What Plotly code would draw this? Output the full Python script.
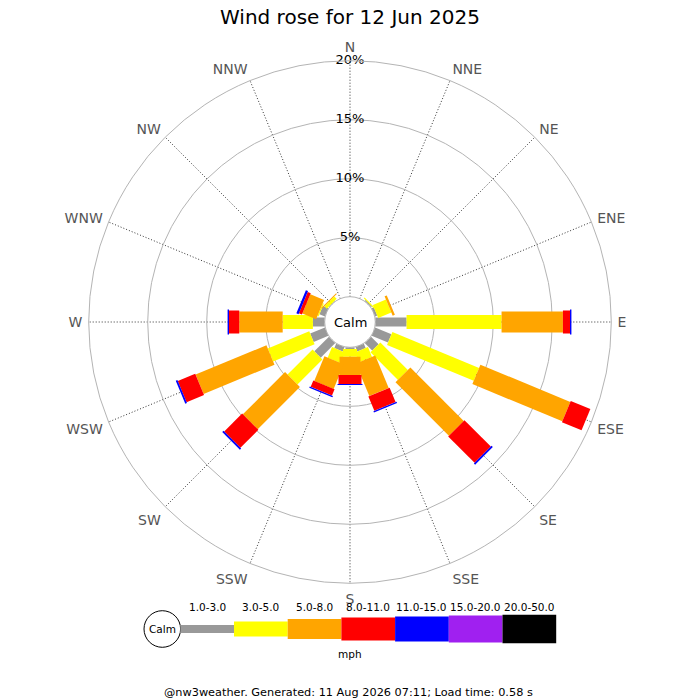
import plotly.graph_objects as go

# Wind rose data (percent of time)
directions = ['N', 'NNE', 'NE', 'ENE', 'E', 'ESE', 'SE', 'SSE',
              'S', 'SSW', 'SW', 'WSW', 'W', 'WNW', 'NW', 'NNW']
band_labels = ['1.0-3.0', '3.0-5.0', '5.0-8.0', '8.0-11.0',
               '11.0-15.0', '15.0-20.0', '20.0-50.0']
band_colors = ['#999999', '#ffff00', '#ffa500', '#ff0000',
               '#0000ff', '#a020f0', '#000000']

speed_1_3 = [0, 0, 0.1, 0.2, 2.65, 1.5, 0.9, 0.4, 0.15, 0.4, 1.75, 1.35, 1.0, 0.5, 0.05, 0]
speed_3_5 = [0, 0, 0.1, 1.2, 8.05, 7.95, 3.3, 0.9, 0.65, 0.97, 3.0, 3.8, 2.56, 0.1, 0.28, 0]
speed_5_8 = [0, 0, 0, 0.2, 5.2, 8.25, 6.4, 2.98, 1.55, 2.26, 5.06, 6.5, 3.68, 1.26, 0.08, 0]
speed_8_11 = [0, 0, 0, 0, 0.6, 1.8, 3.16, 1.32, 0.75, 0.57, 2.15, 1.6, 0.87, 0.28, 0, 0]
speed_11_15 = [0, 0, 0, 0, 0.12, 0, 0.15, 0.12, 0.1, 0.12, 0.15, 0.15, 0.12, 0.2, 0, 0]
speed_15_20 = [0] * 16
speed_20_50 = [0] * 16

radial_ticks = [5, 10, 15, 20]
radial_tick_text = ['5%', '10%', '15%', '20%']

title = 'Wind rose for 12 Jun 2025'
footer = '@nw3weather. Generated: 11 Aug 2026 07:11; Load time: 0.58 s'

FONT = 'DejaVu Sans'
W = H = 700
OFF = 8  # page margin the browser adds around the plot


def px(x):
    return (x - OFF) / W


def py(y):
    return 1 - (y - OFF) / H


bands = [speed_1_3, speed_3_5, speed_5_8, speed_8_11, speed_11_15, speed_15_20, speed_20_50]
widths = [9, 14, 21, 23, 25, 27, 29]
angles = [i * 22.5 for i in range(len(directions))]

fig = go.Figure()

# stacked segments drawn as thick radial lines
base = [0.0] * len(directions)
for vals, col, lw in zip(bands, band_colors, widths):
    rr, tt = [], []
    for i, v in enumerate(vals):
        if v > 0:
            rr += [base[i], base[i] + v, None]
            tt += [angles[i], angles[i], None]
        base[i] += v
    if rr:
        fig.add_trace(go.Scatterpolar(r=rr, theta=tt, mode='lines',
                                      line=dict(color=col, width=lw),
                                      hoverinfo='skip', showlegend=False))

# percent labels on the north line
fig.add_trace(go.Scatterpolar(r=radial_ticks, theta=[0] * len(radial_ticks), mode='text',
                              text=radial_tick_text, textposition='middle center',
                              textfont=dict(family=FONT, size=13, color='black'),
                              hoverinfo='skip', showlegend=False))

cx, cy, R = 350, 322, 261.3
fig.update_layout(
    width=W, height=H,
    margin=dict(l=0, r=0, t=0, b=0),
    paper_bgcolor='white', plot_bgcolor='white',
    showlegend=False,
    font=dict(family=FONT),
    polar=dict(
        domain=dict(x=[px(cx - R), px(cx + R)], y=[py(cy + R), py(cy - R)]),
        hole=25.3 / R,
        bgcolor='white',
        radialaxis=dict(range=[0, 20], tickvals=[0] + radial_ticks, showticklabels=False,
                        ticks='', showline=False, gridcolor='#b4b4b4', gridwidth=1),
        angularaxis=dict(rotation=90, direction='clockwise', tickmode='array',
                         tickvals=angles, ticktext=directions,
                         tickfont=dict(family=FONT, size=14, color='#555555'),
                         ticks='outside', ticklen=3, tickcolor='rgba(0,0,0,0)',
                         showline=True, linecolor='#b4b4b4', linewidth=1,
                         gridcolor='#333333', griddash='1px,2px', gridwidth=1),
    ),
)


def label(text, x, y, size):
    fig.add_annotation(text=text, x=px(x), y=py(y), xref='paper', yref='paper',
                       xanchor='center', yanchor='middle', showarrow=False,
                       font=dict(family=FONT, size=size, color='black'))


label('Calm', cx, cy, 13)
label(title, 350, 17, 20)
label(footer, 348, 692, 11.3)

# legend strip along the bottom
leg_y = 629
x0 = 180.3
box_w = 53.7
thick = [8, 15, 20, 23, 25, 27, 28.5]
fig.add_shape(type='circle', xref='paper', yref='paper',
              x0=px(162.3 - 18.3), x1=px(162.3 + 18.3),
              y0=py(leg_y + 18.3), y1=py(leg_y - 18.3),
              line=dict(color='black', width=1), fillcolor='white')
label('Calm', 162.3, leg_y, 10.5)
for k, (lab, col) in enumerate(zip(band_labels, band_colors)):
    xa = x0 + k * box_w
    xb = xa + box_w
    fig.add_shape(type='rect', xref='paper', yref='paper',
                  x0=px(xa), x1=px(xb),
                  y0=py(leg_y + thick[k] / 2), y1=py(leg_y - thick[k] / 2),
                  line=dict(width=0), fillcolor=col)
    label(lab, (xa + xb) / 2, 607, 10.5)
label('mph', 350, 654, 10.5)

fig.write_html('out.html')
